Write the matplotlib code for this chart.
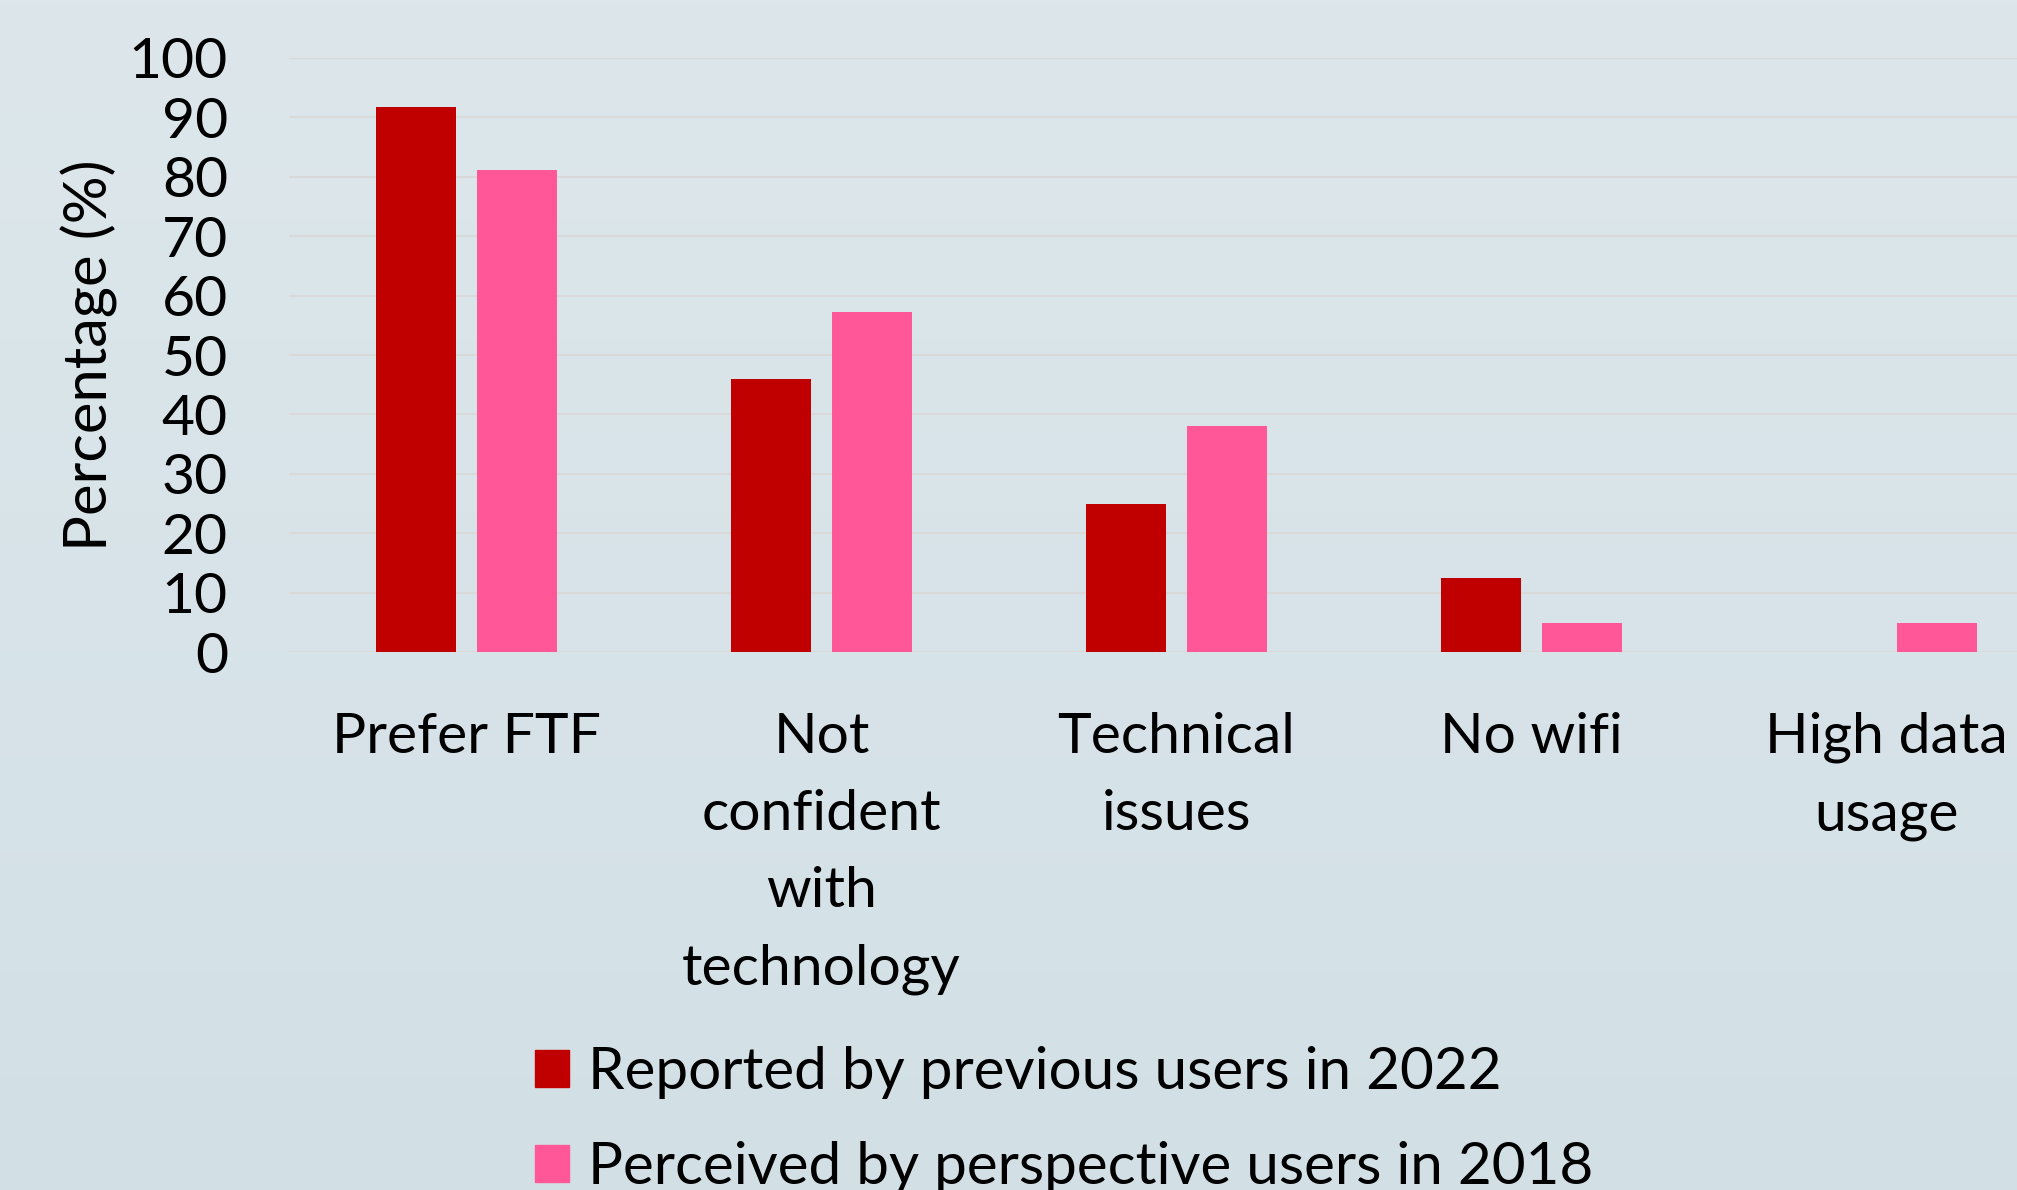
import matplotlib.pyplot as plt
import numpy as np
from matplotlib.patches import Patch

# data
categories = ['Prefer FTF', 'Not\nconfident\nwith\ntechnology', 'Technical\nissues', 'No wifi', 'High data\nusage']
reported_2022 = [91.8, 45.9, 25.0, 12.5, 0]
perceived_2018 = [81.2, 57.2, 38.1, 4.8, 4.8]
series_names = ['Reported by previous users in 2022', 'Perceived by perspective users in 2018']
colours = ['#C00000', '#FF5797']
yticks = np.arange(0, 101, 10)

plt.rcParams['font.family'] = ['Lato', 'DejaVu Sans']
fs = 41

W, H = 2017, 1190
fig = plt.figure(figsize=(W / 100, H / 100), dpi=100)

# background gradient
bg = fig.add_axes([0, 0, 1, 1], zorder=-10)
top = np.array([221, 231, 235]) / 255
bot = np.array([210, 224, 230]) / 255
grad = np.linspace(0, 1, 256)[:, None]
img = top[None, None, :] * (1 - grad[..., None]) + bot[None, None, :] * grad[..., None]
bg.imshow(img, aspect='auto', extent=[0, 1, 0, 1])
bg.axis('off')

left, right_px = 289, 289 + 5 * 355
ax_bottom, ax_top = 652, 58
ax = fig.add_axes([left / W, 1 - ax_bottom / H, (right_px - left) / W, (ax_bottom - ax_top) / H])
ax.patch.set_alpha(0)

x = np.arange(len(categories))
w = 0.225
off = 0.143
ax.bar(x - off, reported_2022, w, color=colours[0], zorder=3)
ax.bar(x + off, perceived_2018, w, color=colours[1], zorder=3)

ax.set_xlim(-0.5, len(categories) - 0.5)
ax.set_ylim(0, 100)
ax.set_yticks(yticks)
ax.set_yticklabels([str(v) for v in yticks], fontsize=fs)
ax.set_xticks(x)
ax.set_xticklabels(categories, fontsize=fs, linespacing=1.64, va='top')
ax.tick_params(axis='both', length=0)
ax.tick_params(axis='y', pad=44)
ax.tick_params(axis='x', pad=43)
ax.grid(axis='y', color='#d9d9d9', linewidth=1.5, zorder=0)
for s in ax.spines.values():
    s.set_visible(False)

ax.set_ylabel('Percentage (%)', fontsize=43, labelpad=8)

handles = [Patch(color=c) for c in colours]
fig.legend(handles, series_names, loc='upper left', bbox_to_anchor=(535 / W, 1 - 1046 / H),
           frameon=False, fontsize=42, handlelength=0.58, handleheight=0.58,
           handletextpad=0.32, labelspacing=0.72, borderpad=0, borderaxespad=0)

fig.savefig('out.png', dpi=100)
